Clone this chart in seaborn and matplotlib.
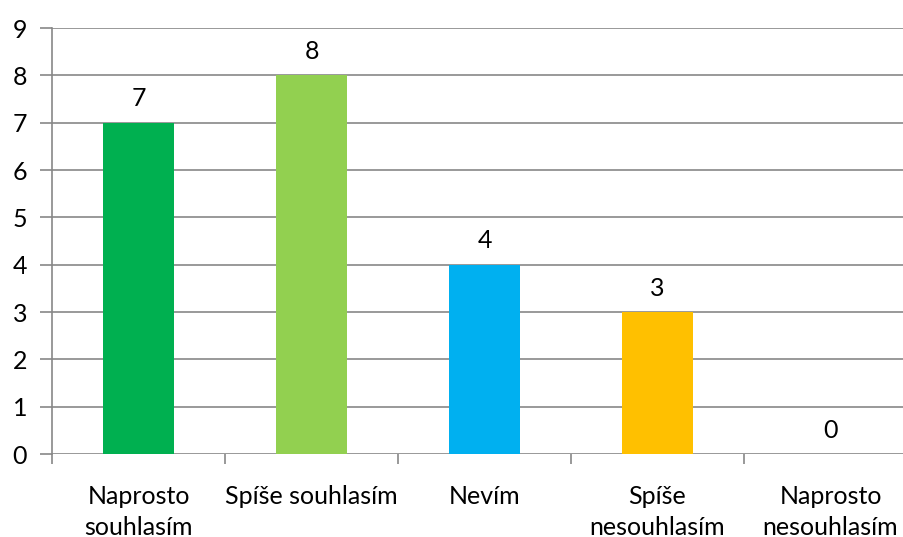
import matplotlib
matplotlib.use("Agg")
import matplotlib.pyplot as plt
import seaborn as sns
import pandas as pd
from matplotlib.ticker import FixedLocator

categories = ["Naprosto\nsouhlasím", "Spíše souhlasím", "Nevím", "Spíše\nnesouhlasím", "Naprosto\nnesouhlasím"]
values = [7, 8, 4, 3, 0]
colors = ["#00B050", "#92D050", "#00B0F0", "#FFC000", "#E46C0A"]
yticks = list(range(0, 10))

sns.set_theme(style="white")
plt.rcParams['font.family'] = ['Lato', 'DejaVu Sans']
plt.rcParams['text.color'] = 'black'
plt.rcParams['xtick.color'] = 'black'
plt.rcParams['ytick.color'] = 'black'

df = pd.DataFrame({"cat": categories, "val": values})

fig = plt.figure(figsize=(9.04, 5.37), dpi=100)
ax = fig.add_axes([52/904, 83/537, 865/904, 426/537])

sns.barplot(data=df, x="cat", y="val", hue="cat", palette=colors, legend=False,
            width=0.405, ax=ax, saturation=1, edgecolor="none")

ax.set_ylim(0, 9)
ax.set_xlim(-0.5, len(categories) - 0.5)
ax.set_yticks(yticks)
ax.yaxis.grid(True, color="#878787", linewidth=1.2)
ax.set_axisbelow(True)
for s in ["top", "right", "bottom"]:
    ax.spines[s].set_visible(False)
ax.spines["left"].set_color("#878787")
ax.spines["left"].set_linewidth(1.2)

ax.tick_params(axis="y", which="major", direction="out", length=9, width=1.2, color="#878787",
               labelcolor="black", labelsize=18, pad=9, left=True)
ax.set_xticks(range(len(categories)))
ax.set_xticklabels(categories, linespacing=1.45)
ax.tick_params(axis="x", which="major", length=0, labelsize=18, pad=22, labelcolor="black")
ax.xaxis.set_minor_locator(FixedLocator([i - 0.5 for i in range(len(categories) + 1)]))
ax.tick_params(axis="x", which="minor", direction="out", length=7, width=1.2, color="#878787", bottom=True)
ax.set_xlabel("")
ax.set_ylabel("")

for c in ax.containers:
    ax.bar_label(c, fmt="%d", padding=9, fontsize=18, color="black")

fig.savefig("out.png", dpi=100)
